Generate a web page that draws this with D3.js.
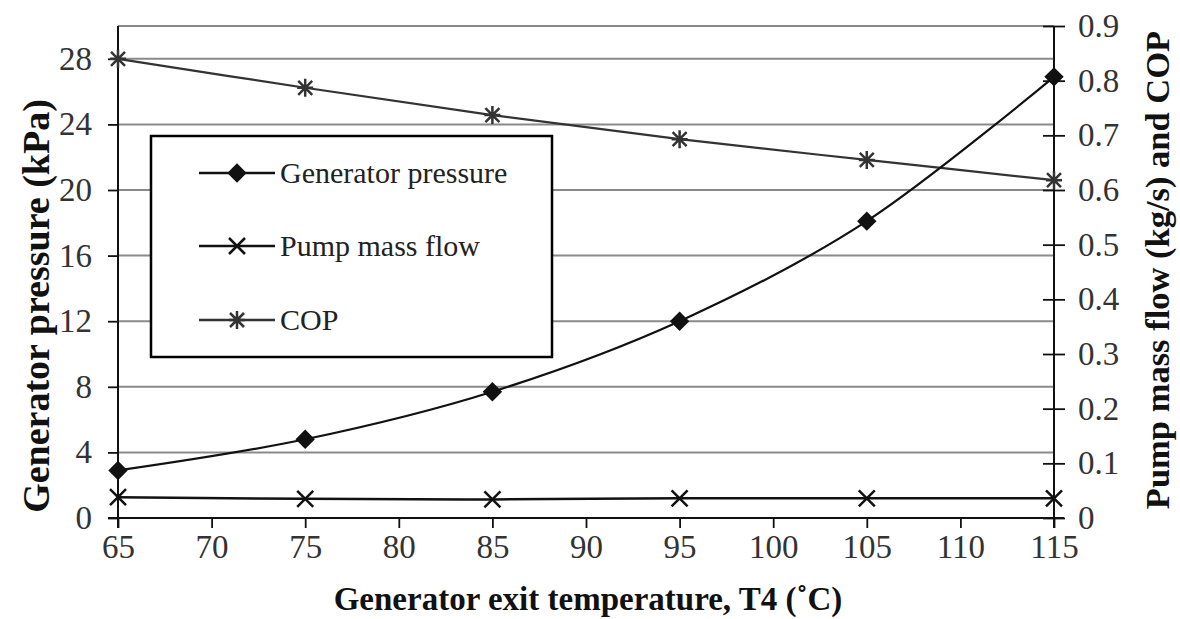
<!DOCTYPE html>
<html lang="en">
<head>
<meta charset="UTF-8">
<script src="https://d3js.org/d3.v7.min.js"></script>
<title>generator chart</title>
<style>
  body { margin: 0; background: white; }
  text { font-family: "Liberation Serif", "Times New Roman", serif; }
</style>
</head>
<body>
<div id="chart"></div>
<script>
// data
const temps = [65, 75, 85, 95, 105, 115];
const genPressure = [2.9, 4.8, 7.7, 12.0, 18.1, 26.9];      // kPa, left axis
const pumpFlow = [0.038, 0.035, 0.034, 0.036, 0.036, 0.036]; // kg/s, right axis
const cop = [0.84, 0.787, 0.737, 0.693, 0.655, 0.618];       // right axis
const leftTicks = [0, 4, 8, 12, 16, 20, 24, 28];
const rightTicks = [0, 0.1, 0.2, 0.3, 0.4, 0.5, 0.6, 0.7, 0.8, 0.9];
const xTicks = [65, 70, 75, 80, 85, 90, 95, 100, 105, 110, 115];
const legendNames = ["Generator pressure", "Pump mass flow", "COP"];

const W = 1180, H = 619;
const pLeft = 118, pRight = 1054, pTop = 26, pBottom = 518;
const serif = "'Liberation Serif', 'Times New Roman', serif";

const x = d3.scaleLinear().domain([65, 115]).range([pLeft, pRight]);
const yL = d3.scaleLinear().domain([0, 30]).range([pBottom, pTop]);
const yR = d3.scaleLinear().domain([0, 0.9]).range([pBottom, pTop]);

const svg = d3.select("#chart").append("svg")
  .attr("width", W).attr("height", H);

// gridlines
svg.append("g").selectAll("line")
  .data(leftTicks.filter(d => d > 0).concat([30]))
  .enter().append("line")
  .attr("x1", pLeft).attr("x2", pRight)
  .attr("y1", d => yL(d)).attr("y2", d => yL(d))
  .attr("stroke", "#8a8a8a").attr("stroke-width", 2);

// axes
const gx = svg.append("g").attr("transform", "translate(0," + pBottom + ")")
  .call(d3.axisBottom(x).tickValues(xTicks).tickSize(10).tickPadding(7).tickFormat(d3.format("d")));
const gl = svg.append("g").attr("transform", "translate(" + pLeft + ",0)")
  .call(d3.axisLeft(yL).tickValues(leftTicks).tickSize(10).tickPadding(16).tickFormat(d3.format("d")));
const gr = svg.append("g").attr("transform", "translate(" + pRight + ",0)")
  .call(d3.axisRight(yR).tickValues(rightTicks).tickSize(11).tickPadding(13)
    .tickFormat(d => d === 0 ? "0" : d3.format(".1f")(d)));
gr.selectAll(".tick line").attr("x1", -11);
[gx, gl, gr].forEach(g => {
  g.attr("font-family", serif).attr("font-size", 33);
  g.select(".domain").remove();
  g.selectAll(".tick line").attr("stroke", "#111").attr("stroke-width", 1.8);
  g.selectAll(".tick text").attr("fill", "#333")
    .style("font-family", serif).style("font-size", "33px");
});
gl.append("line").attr("y1", pTop).attr("y2", pBottom + 10).attr("stroke", "#111").attr("stroke-width", 2);
gr.append("line").attr("y1", pTop).attr("y2", pBottom + 10).attr("stroke", "#111").attr("stroke-width", 2);
gx.append("line").attr("x1", pLeft - 10).attr("x2", pRight + 10).attr("stroke", "#111").attr("stroke-width", 2);

// axis titles
svg.append("text").attr("x", 588).attr("y", 610)
  .attr("text-anchor", "middle").attr("font-weight", "bold").attr("font-size", 33)
  .attr("fill", "#111").text("Generator exit temperature, T4  (\u02DAC)");
svg.append("text").attr("transform", "translate(49," + 306 + ") rotate(-90)")
  .attr("text-anchor", "middle").attr("font-weight", "bold").attr("font-size", 38)
  .attr("fill", "#111").text("Generator pressure (kPa)");
svg.append("text").attr("transform", "translate(1169," + 270 + ") rotate(-90)")
  .attr("text-anchor", "middle").attr("font-weight", "bold").attr("font-size", 34.5)
  .attr("fill", "#111").text("Pump mass flow (kg/s) and COP");

// series
const curve = d3.curveCardinal.tension(0);
const genLine = d3.line().curve(curve).x((d, i) => x(temps[i])).y(d => yL(d));
const rLine = d3.line().curve(curve).x((d, i) => x(temps[i])).y(d => yR(d));

svg.append("path").attr("d", rLine(cop)).attr("fill", "none").attr("stroke", "#333").attr("stroke-width", 2.2);
svg.append("path").attr("d", rLine(pumpFlow)).attr("fill", "none").attr("stroke", "#111").attr("stroke-width", 2.5);
svg.append("path").attr("d", genLine(genPressure)).attr("fill", "none").attr("stroke", "#111").attr("stroke-width", 2.2);

function diamond(g, cx, cy) {
  g.append("path").attr("d", d3.symbol(d3.symbolDiamond2, 240)())
    .attr("transform", "translate(" + cx + "," + cy + ")").attr("fill", "#111");
}
function cross(g, cx, cy) {
  g.append("path").attr("d", "M-8,-8L8,8M-8,8L8,-8")
    .attr("transform", "translate(" + cx + "," + cy + ")").attr("stroke", "#111").attr("stroke-width", 2.5);
}
function star(g, cx, cy) {
  g.append("path").attr("d", "M-7,-7L7,7M-7,7L7,-7M0,-9L0,9M-8,0L8,0")
    .attr("transform", "translate(" + cx + "," + cy + ")").attr("stroke", "#333").attr("stroke-width", 2.5);
}
const marks = svg.append("g");
cop.forEach((d, i) => star(marks, x(temps[i]), yR(d)));
pumpFlow.forEach((d, i) => cross(marks, x(temps[i]), yR(d)));
genPressure.forEach((d, i) => diamond(marks, x(temps[i]), yL(d)));

// legend
const lg = svg.append("g");
lg.append("rect").attr("x", 151).attr("y", 136).attr("width", 401).attr("height", 221)
  .attr("fill", "white").attr("stroke", "#000").attr("stroke-width", 2.5);
const rows = [173, 246, 320];
const drawers = [diamond, cross, star];
legendNames.forEach((name, i) => {
  lg.append("line").attr("x1", 199).attr("x2", 275).attr("y1", rows[i]).attr("y2", rows[i])
    .attr("stroke", i === 2 ? "#333" : "#111").attr("stroke-width", 2.5);
  drawers[i](lg, 237, rows[i]);
  lg.append("text").attr("x", 280).attr("y", rows[i] + 10).attr("font-size", 30)
    .attr("fill", "#222").text(name);
});
</script>
</body>
</html>
